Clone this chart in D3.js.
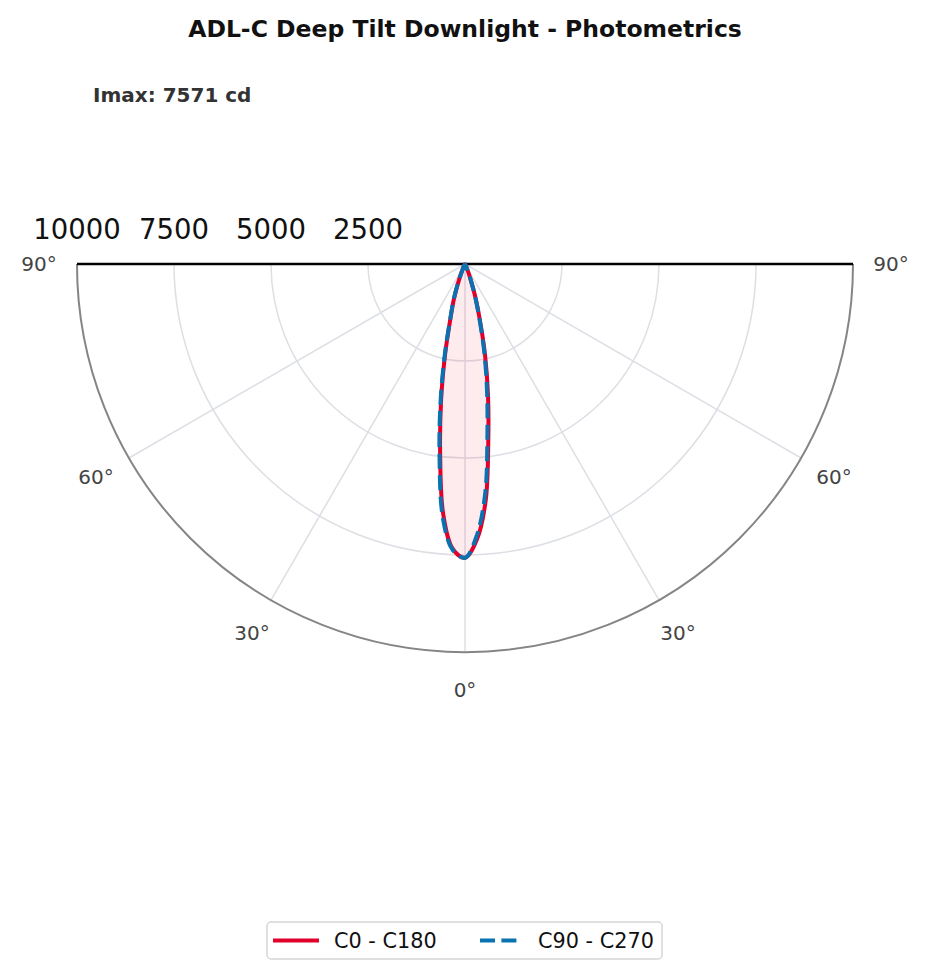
<!DOCTYPE html>
<meta charset="utf-8">
<head>
  <style>
    body { margin: 0; background: #fff; font-family: "DejaVu Sans", sans-serif; }
    .title { font-size: 23.5px; font-weight: bold; fill: #111; }
    .imax { font-size: 20px; font-weight: bold; fill: #333; }
    .rlabel { font-size: 27.5px; fill: #111; }
    .alabel { font-size: 20px; fill: #444; }
    .grid { fill: none; stroke: #dcdfe4; stroke-width: 1.5; }
    .legend-text { font-size: 20.8px; fill: #111; }
  </style>
  <script src="https://cdn.jsdelivr.net/npm/d3@7/dist/d3.min.js"></script>
</head>
<body>
  <div id="viz"></div>
</body>
<script>
// gamma angles (deg) and intensities (cd)
var gamma = [0, 2.5, 5, 7.5, 10, 12.5, 15, 17.5, 20, 22.5, 25, 27.5, 30, 35, 40, 45, 50, 55, 60, 65, 70, 75, 80, 85, 90];
var c0   = [7571, 7100, 6120, 4600, 3410, 2375, 1455, 870, 420, 180, 70, 30, 15, 8, 5, 3, 2, 2, 1, 1, 0, 0, 0, 0, 0];
var c180 = [7571, 7340, 6460, 4910, 3540, 2350, 1440, 960, 530, 230, 95, 40, 18, 9, 5, 3, 2, 2, 1, 1, 0, 0, 0, 0, 0];
var c90  = [7571, 7000, 5950, 4420, 3250, 2260, 1390, 830, 400, 170, 65, 28, 14, 8, 5, 3, 2, 2, 1, 1, 0, 0, 0, 0, 0];
var c270 = [7571, 7370, 6560, 5030, 3640, 2420, 1480, 990, 550, 240, 100, 42, 19, 9, 5, 3, 2, 2, 1, 1, 0, 0, 0, 0, 0];
var rTicks = [2500, 5000, 7500, 10000];
var angleTicks = [0, 30, 60, 90];
var imax = 7571;

var width = 930, height = 980;
var cx = 465, cy = 264, R = 388;
var red = "#e0002b", blue = "#0a72b0";

var svg = d3.select("#viz")
  .append("svg")
    .attr("width", width)
    .attr("height", height);

var r = d3.scaleLinear().domain([0, 10000]).range([0, R]);
var rad = function(deg) { return deg * Math.PI / 180; };

svg.append("text")
  .attr("class", "title")
  .attr("x", cx)
  .attr("y", 37)
  .attr("text-anchor", "middle")
  .text("ADL-C Deep Tilt Downlight - Photometrics");

svg.append("text")
  .attr("class", "imax")
  .attr("x", 93)
  .attr("y", 102)
  .text("Imax: " + imax + " cd");

var g = svg.append("g").attr("transform", "translate(" + cx + "," + cy + ")");

/* grid rings (lower half circle) */
g.selectAll(".ring")
  .data(rTicks.slice(0, -1))
  .enter()
  .append("path")
    .attr("class", "grid")
    .attr("d", function(d) {
      var p = d3.path();
      p.arc(0, 0, r(d), 0, Math.PI);
      return p.toString();
    });

/* spokes, angle measured from nadir */
var spokes = [-60, -30, 0, 30, 60];
g.selectAll(".spoke")
  .data(spokes)
  .enter()
  .append("line")
    .attr("class", "grid")
    .attr("x1", 0).attr("y1", 0)
    .attr("x2", function(d) { return r(10000) * Math.sin(rad(d)); })
    .attr("y2", function(d) { return r(10000) * Math.cos(rad(d)); });

/* outer boundary */
g.append("path")
  .attr("fill", "none")
  .attr("stroke", "#858585")
  .attr("stroke-width", 2)
  .attr("d", function() {
    var p = d3.path();
    p.arc(0, 0, r(10000), 0, Math.PI);
    return p.toString();
  });

g.append("line")
  .attr("x1", -r(10000)).attr("x2", r(10000))
  .attr("y1", 0).attr("y2", 0)
  .attr("stroke", "#000")
  .attr("stroke-width", 2.5);

/* radial labels */
svg.selectAll(".rlabel")
  .data(rTicks)
  .enter()
  .append("text")
    .attr("class", "rlabel")
    .attr("x", function(d) { return cx - r(d); })
    .attr("y", 239)
    .attr("text-anchor", "middle")
    .text(function(d) { return d; });

/* angle labels on both sides */
var angLabels = [];
angleTicks.forEach(function(a) {
  angLabels.push(a);
  if (a !== 0) angLabels.push(-a);
});
g.selectAll(".alabel")
  .data(angLabels)
  .enter()
  .append("text")
    .attr("class", "alabel")
    .attr("x", function(d) { return 426 * Math.sin(rad(d)); })
    .attr("y", function(d) { return 426 * Math.cos(rad(d)); })
    .attr("text-anchor", "middle")
    .attr("dy", "0.36em")
    .text(function(d) { return Math.abs(d) + "°"; });

/* build a curve: left half-plane from 90 down to 0, then right half 0 to 90 */
function curvePoints(left, right) {
  var pts = [];
  for (var i = gamma.length - 1; i > 0; i--) pts.push({a: -gamma[i], v: left[i]});
  for (var j = 0; j < gamma.length; j++) pts.push({a: gamma[j], v: right[j]});
  return pts;
}

var line = d3.lineRadial()
  .angle(function(d) { return Math.PI - rad(d.a); })
  .radius(function(d) { return r(d.v); })
  .curve(d3.curveCatmullRom.alpha(0.5));

var redPts = curvePoints(c180, c0);
var bluePts = curvePoints(c270, c90);

g.append("path")
  .attr("d", line(redPts) + "Z")
  .attr("fill", red)
  .attr("fill-opacity", 0.08)
  .attr("stroke", "none");

g.append("path")
  .attr("d", line(redPts))
  .attr("fill", "none")
  .attr("stroke", red)
  .attr("stroke-width", 4)
  .attr("stroke-linejoin", "round");

g.append("path")
  .attr("d", line(bluePts))
  .attr("fill", "none")
  .attr("stroke", blue)
  .attr("stroke-width", 4)
  .attr("stroke-dasharray", "15,6.4");

/* legend */
var leg = svg.append("g").attr("transform", "translate(267,922)");
leg.append("rect")
  .attr("width", 395).attr("height", 37)
  .attr("rx", 4)
  .attr("fill", "#fff")
  .attr("stroke", "#d6d6d6")
  .attr("stroke-width", 1.5);
leg.append("line")
  .attr("x1", 6).attr("x2", 52).attr("y1", 18.5).attr("y2", 18.5)
  .attr("stroke", red).attr("stroke-width", 4);
leg.append("text")
  .attr("class", "legend-text")
  .attr("x", 67).attr("y", 18.5).attr("dy", "0.36em")
  .text("C0 - C180");
leg.append("line")
  .attr("x1", 213).attr("x2", 250).attr("y1", 18.5).attr("y2", 18.5)
  .attr("stroke", blue).attr("stroke-width", 4)
  .attr("stroke-dasharray", "15,6.4");
leg.append("text")
  .attr("class", "legend-text")
  .attr("x", 271).attr("y", 18.5).attr("dy", "0.36em")
  .text("C90 - C270");
</script>
